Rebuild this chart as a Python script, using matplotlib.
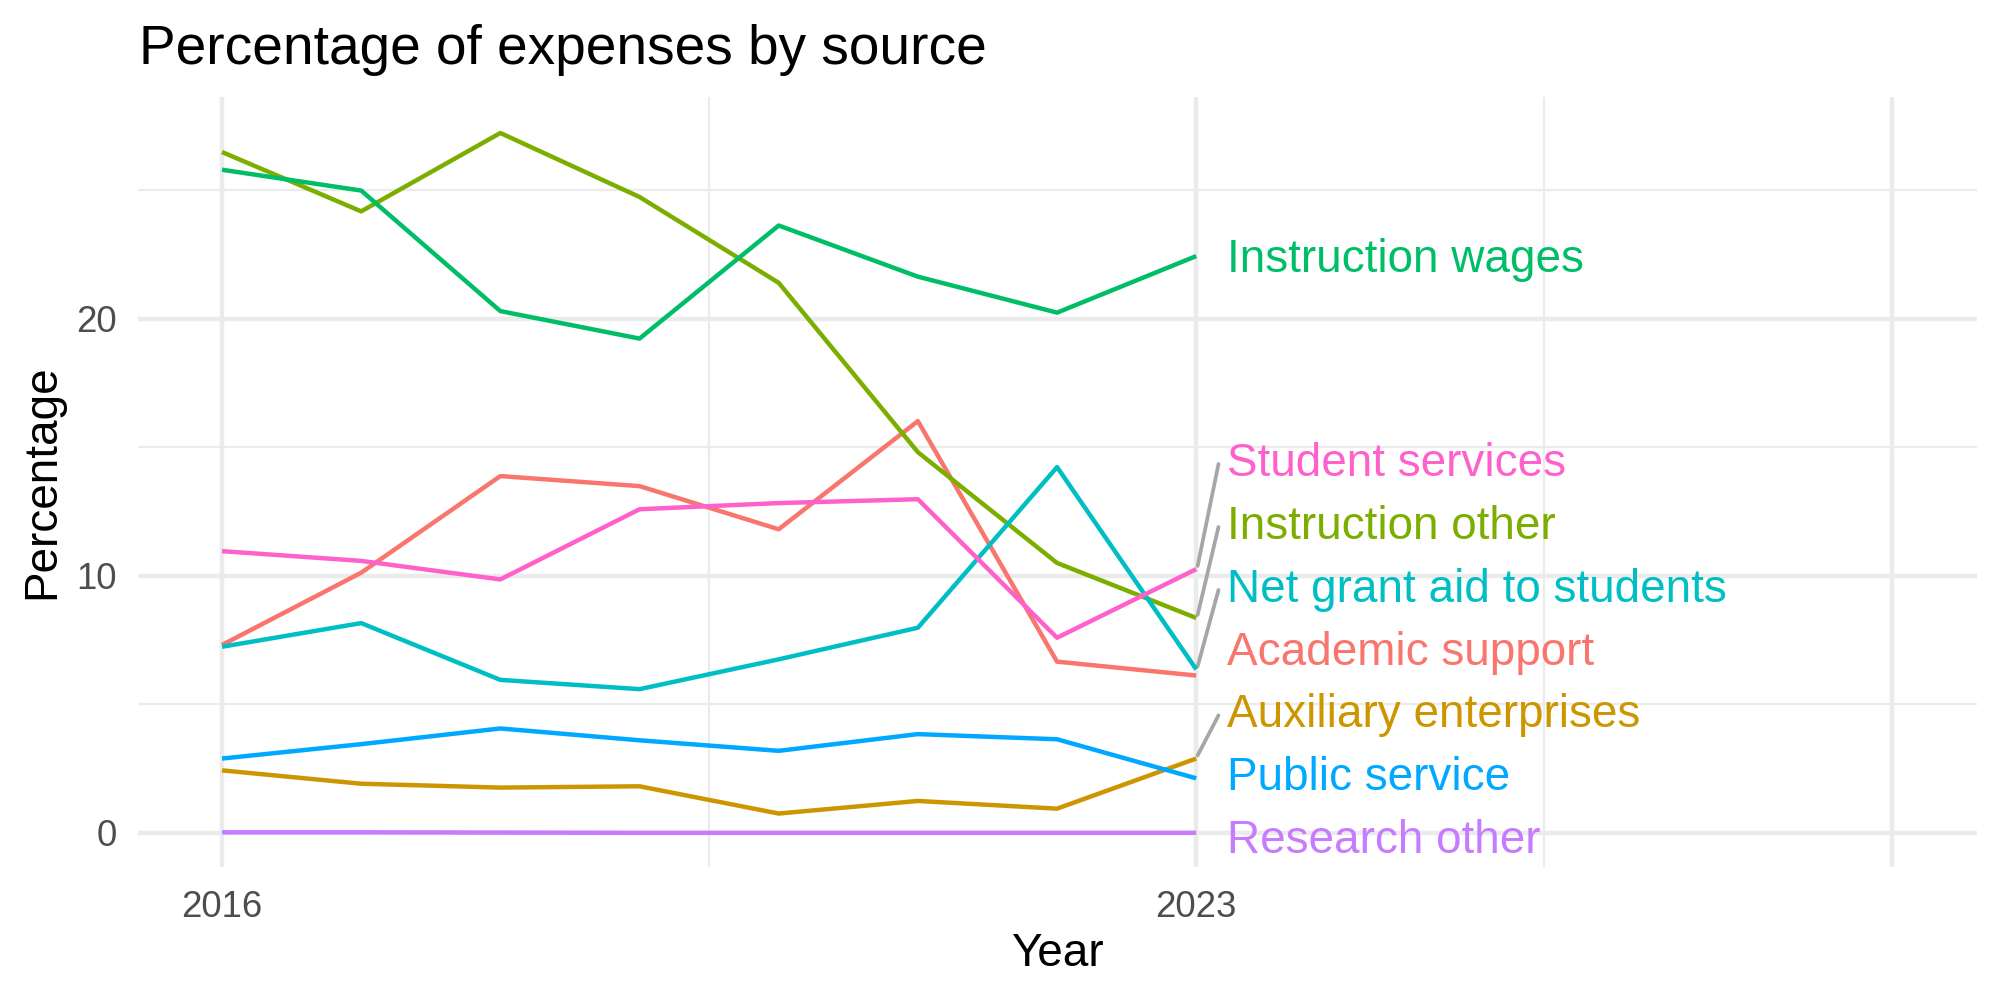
import numpy as np
import matplotlib.pyplot as plt

plt.rcParams['font.family'] = ['Liberation Sans', 'DejaVu Sans']

years = [2016, 2017, 2018, 2019, 2020, 2021, 2022, 2023]

academic_support = [7.31, 10.12, 13.88, 13.49, 11.81, 16.02, 6.66, 6.12]
auxiliary_enterprises = [2.43, 1.91, 1.76, 1.81, 0.75, 1.24, 0.94, 2.89]
instruction_other = [26.49, 24.18, 27.23, 24.74, 21.40, 14.81, 10.50, 8.36]
instruction_wages = [25.80, 24.99, 20.30, 19.23, 23.63, 21.64, 20.24, 22.44]
net_grant_aid = [7.24, 8.16, 5.95, 5.59, 6.75, 7.98, 14.23, 6.36]
public_service = [2.89, 3.45, 4.06, 3.60, 3.19, 3.84, 3.64, 2.12]
research_other = [0.02, 0.02, 0.01, 0.0, 0.0, 0.0, 0.0, 0.0]
student_services = [10.96, 10.58, 9.86, 12.59, 12.83, 12.98, 7.59, 10.26]

names = ["Academic support", "Auxiliary enterprises", "Instruction other",
         "Instruction wages", "Net grant aid to students", "Public service",
         "Research other", "Student services"]
series = [academic_support, auxiliary_enterprises, instruction_other,
          instruction_wages, net_grant_aid, public_service,
          research_other, student_services]
colors = ["#F8766D", "#CD9600", "#7CAE00", "#00BE67",
          "#00BFC4", "#00A9FF", "#C77CFF", "#FF61CC"]

# repelled label heights (as placed in the original)
label_y = [7.16, 4.72, 12.05, 22.44, 9.6, 2.29, -0.15, 14.5]

fig = plt.figure(figsize=(20 / 3, 10 / 3), dpi=300)
ax = fig.add_axes([0.0689, 0.133, 0.9196, 0.770])

grid = "#EBEBEB"
for v in [5, 15, 25]:
    ax.axhline(v, color=grid, lw=0.53, zorder=0)
for v in [0, 10, 20]:
    ax.axhline(v, color=grid, lw=1.07, zorder=0)
for v in [2019.5, 2025.5]:
    ax.axvline(v, color=grid, lw=0.53, zorder=0)
for v in [2016, 2023, 2028]:
    ax.axvline(v, color=grid, lw=1.07, zorder=0)

for name, vals, c, ly in zip(names, series, colors, label_y):
    ax.plot(years, vals, color=c, lw=1.07, zorder=3, solid_capstyle='butt')
    last = vals[-1]
    if abs(ly - last) > 1.3:
        ax.plot([years[-1] + 0.01, years[-1] + 0.16], [last + 0.12, ly - 0.15],
                color="#A6A6A6", lw=0.9, zorder=2, solid_capstyle='round')
    ax.text(years[-1] + 0.22, ly - 0.15, name, color=c, fontsize=11,
            ha='left', va='center', zorder=4)

ax.set_xlim(2015.395, 2028.61)
ax.set_ylim(-1.33, 28.63)
ax.set_xticks([2016, 2023, 2028])
ax.set_xticklabels(["2016", "2023", ""])
ax.set_yticks([0, 10, 20])
ax.tick_params(length=0, labelsize=8.8, labelcolor="#4D4D4D")
ax.tick_params(axis='x', pad=5.6)
ax.tick_params(axis='y', pad=5)
for s in ax.spines.values():
    s.set_visible(False)

ax.set_xlabel("Year", fontsize=11)
ax.set_ylabel("Percentage", fontsize=11)
ax.xaxis.set_label_coords(0.5, -0.113)
ax.yaxis.set_label_coords(-0.052, 0.5)
ax.xaxis.label.set_va('center')
ax.yaxis.label.set_va('center')

fig.text(0.0695, 1 - 0.064, "Percentage of expenses by source",
         fontsize=13.2, ha='left', va='baseline')

fig.savefig("out.png", dpi=300, facecolor="white")
